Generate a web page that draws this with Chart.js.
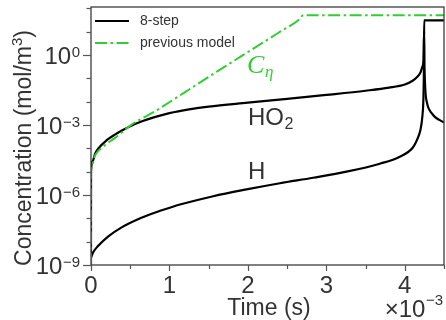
<!DOCTYPE html>
<html><head><meta charset="utf-8">
<script src="https://cdn.jsdelivr.net/npm/chart.js@4.4.0/dist/chart.umd.min.js"></script>
<style>html,body{margin:0;padding:0;background:#fff;}#wrap{width:446px;height:320px;position:relative;}</style>
</head><body><div id="wrap"><canvas id="c" width="446" height="320"></canvas></div>
<script>
// ---- data (time in units of 10^-3 s, concentration in mol/m^3) ----
const xTickValues = [0, 0.5, 1, 1.5, 2, 2.5, 3, 3.5, 4, 4.5];
const xTickLabels = ['0', '', '1', '', '2', '', '3', '', '4', ''];
const yTickDecades = [-9, -8, -7, -6, -5, -4, -3, -2, -1, 0, 1, 2];
const yLabelValues = [1, 1e-3, 1e-6, 1e-9];
const yLabelExponents = ['0', '\u22123', '\u22126', '\u22129'];
const xMultiplier = ['\u00d710', '\u22123'];

const seriesNames = ['8-step', 'previous model'];

const ho2Time = [0, 0.0005, 0.02, 0.05, 0.1, 0.2, 0.3, 0.4, 0.5, 0.65, 0.8, 1.0, 1.25, 1.5, 2.0, 2.5, 3.0, 3.5, 3.8, 4.0, 4.1, 4.16, 4.2, 4.225, 4.238, 4.246, 4.252, 4.258, 4.266, 4.28, 4.30, 4.34, 4.38, 4.44, 4.5];
const ho2Conc = [1e-9, 1.0e-5, 2.8e-5, 5.6e-5, 1.05e-4, 2.24e-4, 3.8e-4, 6.0e-4, 8.9e-4, 1.45e-3, 2.14e-3, 3.24e-3, 4.7e-3, 6.2e-3, 9.1e-3, 1.32e-2, 1.95e-2, 2.95e-2, 4.0e-2, 5.5e-2, 7.9e-2, 0.117, 0.18, 0.32, 0.56, 10, 0.25, 0.063, 0.020, 0.010, 5.6e-3, 3.3e-3, 2.3e-3, 1.66e-3, 1.29e-3];

const hTime = [0, 0.03, 0.089, 0.217, 0.386, 0.599, 0.811, 1.023, 1.134, 1.558, 1.983, 2.408, 2.832, 3.257, 3.682, 3.936, 4.106, 4.16, 4.2, 4.225, 4.238, 4.244, 4.247, 4.5];
const hConc = [2.1e-9, 3.6e-9, 6.5e-9, 1.66e-8, 4.0e-8, 9.1e-8, 1.74e-7, 3.0e-7, 3.9e-7, 8.9e-7, 1.74e-6, 3.2e-6, 5.5e-6, 1.0e-5, 2.2e-5, 4.4e-5, 1.12e-4, 2.5e-4, 6.3e-4, 2.5e-3, 1.6e-2, 0.32, 31, 31];

const prevTime = [0, 0.0005, 0.01, 0.047, 0.09, 0.132, 0.2, 0.302, 0.4, 0.513, 0.811, 1.2, 1.6, 2.0, 2.4, 2.65, 2.705, 4.5];
const prevConc = [1e-9, 6.3e-6, 1.8e-5, 4.6e-5, 7.6e-5, 1.02e-4, 1.58e-4, 2.75e-4, 5.0e-4, 1.02e-3, 3.8e-3, 2.6e-2, 1.9e-1, 1.35, 9.5, 33, 51, 51];

// ---- build ----
const pts = (t, c) => t.map((v, i) => ({x: v, y: c[i]}));
const GREEN = 'rgb(50,205,50)';
const TXT = '#333';
const FONT = '"Liberation Sans", Arial, sans-serif';
const GREEN_DASH = [12, 3.5, 2.5, 3.5];

const decorPlugin = {
  id: 'decor',
  afterDatasetsDraw(chart) {
    const ctx = chart.ctx, ca = chart.chartArea, xs = chart.scales.x, ys = chart.scales.y;
    ctx.save();
    // frame
    ctx.strokeStyle = '#3c3c3c'; ctx.lineWidth = 1.3; ctx.setLineDash([]);
    ctx.strokeRect(ca.left, ca.top, ca.right - ca.left, ca.bottom - ca.top);
    // tick marks
    ctx.strokeStyle = '#555'; ctx.lineWidth = 1.2;
    xTickValues.forEach((v, i) => {
      const px = Math.round(xs.getPixelForValue(v)) + 0.5;
      const len = xTickLabels[i] ? 6 : 4;
      ctx.beginPath(); ctx.moveTo(px, ca.bottom); ctx.lineTo(px, ca.bottom + len); ctx.stroke();
    });
    yTickDecades.forEach(d => {
      const py = Math.round(ys.getPixelForValue(Math.pow(10, d))) + 0.5;
      const len = (d % 3 === 0) ? 8 : 4.5;
      ctx.beginPath(); ctx.moveTo(ca.left - len, py); ctx.lineTo(ca.left, py); ctx.stroke();
    });
    ctx.fillStyle = TXT;
    // x tick labels
    ctx.font = '24px ' + FONT; ctx.textAlign = 'center'; ctx.textBaseline = 'alphabetic';
    xTickValues.forEach((v, i) => {
      if (!xTickLabels[i]) return;
      ctx.fillText(xTickLabels[i], xs.getPixelForValue(v), ca.bottom + 28);
    });
    // y tick labels 10^n
    const rightEdge = ca.left - 11;
    yLabelValues.forEach((v, i) => {
      const py = ys.getPixelForValue(v);
      ctx.textAlign = 'right';
      ctx.font = '15px ' + FONT;
      const ew = ctx.measureText(yLabelExponents[i]).width;
      ctx.fillText(yLabelExponents[i], rightEdge, py + 1.5);
      ctx.font = '24px ' + FONT;
      ctx.fillText('10', rightEdge - ew - 0.5, py + 8.5);
    });
    // x multiplier
    ctx.textAlign = 'right';
    ctx.font = '15px ' + FONT;
    const mw = ctx.measureText(xMultiplier[1]).width;
    ctx.fillText(xMultiplier[1], 443, 305);
    ctx.font = '24px ' + FONT;
    ctx.fillText(xMultiplier[0], 443 - mw - 0.5, 317);
    // x title
    ctx.textAlign = 'center'; ctx.font = '23px ' + FONT;
    ctx.fillText('Time (s)', 269, 315);
    // y title (rotated)
    ctx.save();
    ctx.translate(31, 148); ctx.rotate(-Math.PI / 2);
    ctx.textAlign = 'left';
    ctx.font = '23px ' + FONT;
    const p1 = 'Concentration (mol/m', p2 = '3', p3 = ')';
    const w1 = ctx.measureText(p1).width, w3 = ctx.measureText(p3).width;
    ctx.font = '15px ' + FONT; const w2 = ctx.measureText(p2).width;
    const total = w1 + w2 + w3;
    let x0 = -total / 2;
    ctx.font = '23px ' + FONT; ctx.fillText(p1, x0, 0);
    ctx.font = '15px ' + FONT; ctx.fillText(p2, x0 + w1, -9);
    ctx.font = '23px ' + FONT; ctx.fillText(p3, x0 + w1 + w2, 0);
    ctx.restore();
    // legend
    ctx.lineWidth = 2.2; ctx.strokeStyle = '#000'; ctx.setLineDash([]);
    ctx.beginPath(); ctx.moveTo(95, 21); ctx.lineTo(129, 21); ctx.stroke();
    ctx.strokeStyle = GREEN; ctx.lineWidth = 2; ctx.setLineDash(GREEN_DASH);
    ctx.beginPath(); ctx.moveTo(95, 43); ctx.lineTo(129, 43); ctx.stroke();
    ctx.setLineDash([]);
    ctx.font = '14px ' + FONT; ctx.textAlign = 'left'; ctx.textBaseline = 'middle'; ctx.fillStyle = TXT;
    ctx.fillText(seriesNames[0], 140, 21);
    ctx.fillText(seriesNames[1], 140, 43);
    ctx.textBaseline = 'alphabetic';
    // annotations
    ctx.fillStyle = GREEN;
    ctx.font = 'italic 26px "Liberation Serif", serif';
    ctx.fillText('C', 247, 73);
    ctx.font = 'italic 17px "Liberation Serif", serif';
    ctx.fillText('\u03b7', 265, 77);
    ctx.fillStyle = TXT;
    ctx.font = '24px ' + FONT;
    ctx.fillText('HO', 248, 125);
    const hw = ctx.measureText('HO').width;
    ctx.font = '16px ' + FONT;
    ctx.fillText('2', 248 + hw + 0.5, 129);
    ctx.font = '24px ' + FONT;
    ctx.fillText('H', 248, 179);
    ctx.restore();
  }
};

new Chart(document.getElementById('c'), {
  type: 'line',
  data: {
    datasets: [
      {label: 'HO2', data: pts(ho2Time, ho2Conc), borderColor: '#000', borderWidth: 2.2, pointRadius: 0, fill: false, cubicInterpolationMode: 'monotone', order: 1},
      {label: 'H', data: pts(hTime, hConc), borderColor: '#000', borderWidth: 2.2, pointRadius: 0, fill: false, cubicInterpolationMode: 'monotone', order: 1},
      {label: seriesNames[1], data: pts(prevTime, prevConc), borderColor: GREEN, borderWidth: 2, borderDash: GREEN_DASH, pointRadius: 0, fill: false, cubicInterpolationMode: 'monotone', order: 0}
    ]
  },
  options: {
    responsive: false, animation: false, devicePixelRatio: 1,
    layout: {padding: {top: 7, right: 2, left: 0, bottom: 0}},
    plugins: {legend: {display: false}, tooltip: {enabled: false}},
    scales: {
      x: {type: 'linear', min: 0, max: 4.5, ticks: {display: false}, grid: {display: false}, border: {display: false},
          afterFit: s => { s.height = 55; }},
      y: {type: 'logarithmic', min: 1e-9, max: 115, ticks: {display: false}, grid: {display: false}, border: {display: false},
          afterFit: s => { s.width = 91; }}
    }
  },
  plugins: [decorPlugin]
});
</script></body></html>
